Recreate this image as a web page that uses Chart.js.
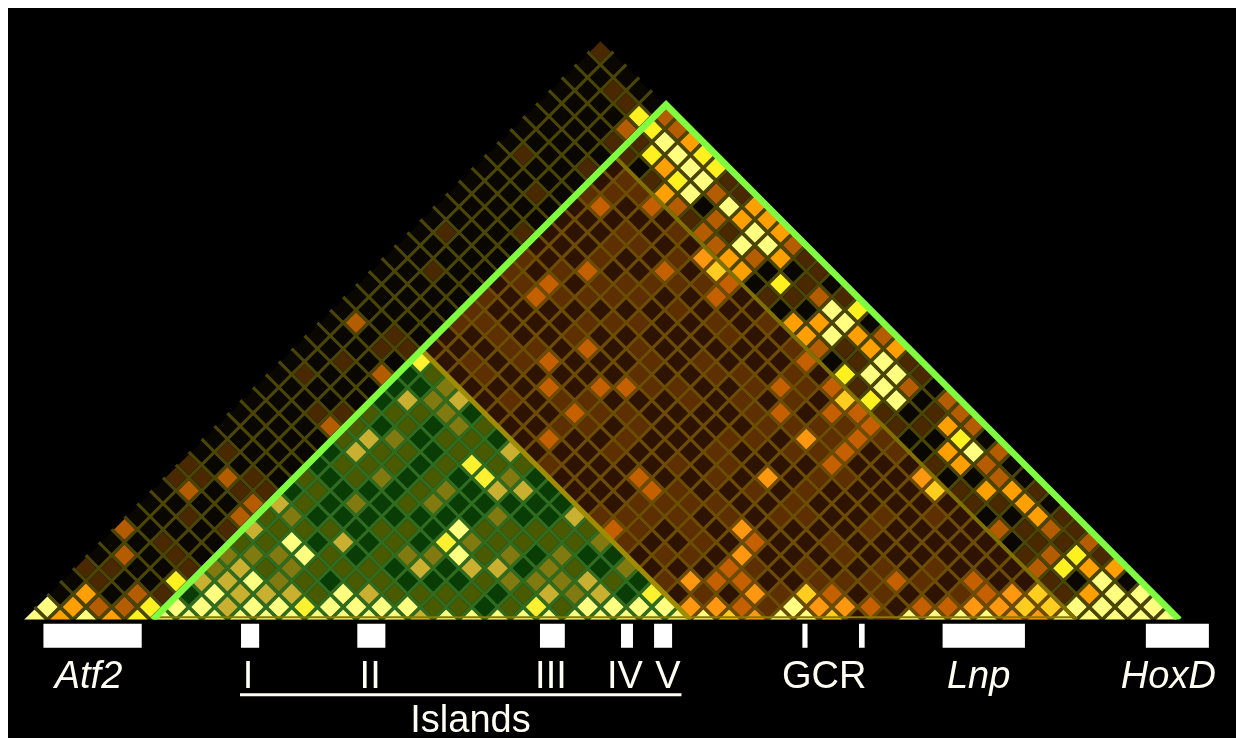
<!DOCTYPE html>
<html><head><meta charset="utf-8">
<style>html,body{margin:0;padding:0;background:#fff}canvas{position:absolute;left:8px;top:8px;background:#000;display:block}</style>
<script src="https://cdn.jsdelivr.net/npm/chart.js@4/dist/chart.umd.js"></script>
</head><body>
<canvas id="c" width="1228" height="730"></canvas>
<script>
// Each entry: [row r (distance from base), position s, s, ...]
const level0 = [[19,29],[18,28,30],[17,27],[16,34],[15,27,31],[14,30,36],[13,23,31],[12,22,30],[11,23,29,33,39],[10,20,24,26,28,34,40],[9,23,27,33,35,37,39,41],[8,22,24,26,28,30,32,34,38,40],[7,25,31],[6,22,26,30],[5,25,39,43,45],[4,28,32,38,44],[3,23,29,31,33,47],[2,12,36,46],[1,35]];
const level1 = [[0,66],[1,57],[2,10,52,58,66,72,80],[3,5,49,61,63,65,69,79],[4,4,6,12,56,60,66,70],[5,11,49,51,63,77,83],[6,10,46,52,62,78,80],[7,15,47,51,65,77,81],[8,12,44,46,48,50,54,58,60,66,70,80],[9,47,49,51,53,59,73,75],[10,16,18,50,56,60,72,78],[11,11,13,17,53,61,63],[12,12,40,50,54,70],[13,15,45,53,59,61,67],[14,46,54,56,62,66],[15,41,43,47,57,59,61,63,67,69],[16,22,24,44,46,56,66,70],[17,37,41,43,51,55,59],[18,48,50,56,60,64],[19,21,35,47,53,55,59,69],[20,24,34,38,48,52,64,68],[21,27,29,37,39,47,59,63],[22,28,36,42,54],[23,33,35,43,45,47,53,57],[24,34,50],[25,35,41,43,45,47,57,59,63],[26,38,44,46,48,50,52,60],[27,31,37,41,61],[28,38,44,50,60],[29,45,47],[30,32,38,46,50,54],[31,51],[33,39,43,45,47,55],[34,46,48,54],[35,43],[36,38,46],[37,45,47],[40,46],[41,45],[44,44]];
const level2 = [[1,5,7,55,65,69,71],[2,8,42,62,74],[3,19,37,39,41,53,55,67,73],[4,14,20,40,46,54,78],[5,7,15,17,19,29,31,37,41,79],[6,34,44,56,82],[7,7,45,75,79],[8,16,20,36],[9,17,25,31],[10,12,32,48],[11,15,27,37,47,75],[12,62,74],[13,63,75],[14,28,40,64],[15,23,33,65,73],[16,32,42,58,62,64,72],[17,31,71],[18,32,40,44,46,58,62,68],[19,27],[20,40,60],[21,43,61],[22,66],[23,25],[25,39,53,61],[26,40,54],[27,43,49],[28,56],[29,53,59],[30,52],[31,53],[32,44,48,50],[33,53],[38,46,50],[39,49]];
const level3 = [[0,2,6,30,56,76,78],[1,3,15,51,53,61,63,73,75],[2,4,16,18,20,26,40,44,56,76,82],[3,13,15,43,51],[4,16,30,34,36,82,84],[5,55],[6,24],[7,17,55],[8,42,78],[9,19,77],[10,36,38,74,76],[11,57,69],[12,72],[13,25,37,71],[14,26,60],[15,71],[17,29,33],[21,65,67],[22,60,64],[23,59,61],[27,55],[28,52,54,58],[30,58],[31,55,57],[32,56],[33,49],[35,49],[37,51]];
const level4 = [[0,8,54,62],[1,9,21,39,77,79],[2,48,60,78],[3,11],[4,80],[5,81],[6,32],[10,70],[11,35],[12,34],[14,72],[17,63,65],[19,63],[20,30],[24,64],[26,58],[27,53],[34,50],[35,53],[36,48,52],[38,48],[39,47]];
const level5 = [[0,0,4,10,12,14,16,18,20,22,24,26,28,32,34,36,38,40,42,44,46,48,50,52,58,60,68,70,72,74,80,82,84,86,88],[1,1,11,13,17,19,23,25,27,29,43,45,47,49,59,81,83,85,87],[2,14,24,84,86],[3,17,83],[5,21,33],[6,20],[7,33],[13,73],[17,67],[18,66],[19,65,67],[20,66],[22,62],[23,63],[24,62],[29,55,57],[30,56],[32,54],[33,51],[34,52],[35,51],[36,50],[37,49]];

const markerCount = 45;
const outlineI = 4.6, greenJ = 25.5, brownJ = 40.5, outlineJ = 44.5;

const bandStart = [0.70, 16.06, 25.1, 39.3, 45.6, 48.17, 59.7, 64.1, 70.6, 86.4];
const bandEnd   = [8.34, 17.47, 27.28, 41.23, 46.53, 49.57, 60.1, 64.54, 77.0, 91.3];
const labelText = ['Atf2','I','II','III','IV','V','GCR','Lnp','HoxD','Islands'];
const labelPos  = [4.2, 16.6, 26.1, 40.15, 45.9, 49.25, 61.4, 73.4, 88.15, 33.9];
const labelRow  = [-5.25,-5.25,-5.25,-5.25,-5.25,-5.25,-5.25,-5.25,-5.25,-8.67];
const labelItalic = [true,false,false,false,false,false,false,true,true,false];

const basePal  = ['#0a0600','#4a2800','#b35c00','#ff9f00','#fff020','#ffff80'];
const brownPal = ['#2e1300','#5e2f00','#c46000','#ff9810','#ffcc20','#ffff80'];
const greenPal = ['#0a3d05','#4a5a00','#807a10','#c9b030','#fff030','#ffff80'];

const ij = (i,j)=>({x:i+j,y:j-i});
const lookup = new Map();
[level0,level1,level2,level3,level4,level5].forEach((lst,lv)=>lst.forEach(row=>{
  for(let k=1;k<row.length;k++) lookup.set(row[0]+','+row[k],lv);
}));
const cells=[], cellColors=[];
for(let r=0;r<markerCount;r++){
  for(let i=0;i<markerCount-r;i++){
    const j=i+r, s=i+j;
    const green = i>outlineI && j<greenJ;
    const brown = i>outlineI && j>greenJ && j<brownJ;
    const key=r+','+s;
    const lv = lookup.has(key)?lookup.get(key):(green?1:0);
    cells.push({x:s,y:r});
    cellColors.push((green?greenPal:brown?brownPal:basePal)[lv]);
  }
}
const grid=[];
for(let k=0;k<markerCount-1;k++){
  const c=k+0.5;
  grid.push(ij(-0.5,c),ij(c,c),{x:null,y:null});
  grid.push(ij(c,c),ij(c,markerCount-0.5),{x:null,y:null});
}
const bands=[];
bandStart.forEach((b,n)=>{bands.push({x:b,y:-1.24},{x:bandEnd[n],y:-1.24},{x:null,y:null});});

const baseClip={left:12,top:12,right:12,bottom:-108};
const labelPlugin={id:'labels',afterDraw(ch){
  const c=ch.ctx;c.save();c.fillStyle='#fffff4';c.textAlign='center';c.textBaseline='alphabetic';
  labelText.forEach((t,n)=>{
    c.font=(labelItalic[n]?'italic ':'')+'38px "Liberation Sans"';
    c.fillText(t,ch.scales.x.getPixelForValue(labelPos[n]),ch.scales.y.getPixelForValue(labelRow[n]));
  });
  c.restore();
}};
new Chart(document.getElementById('c'),{
  type:'scatter',
  data:{datasets:[
    {type:'line',order:1,label:'outline',data:[ij(outlineI,outlineI),ij(outlineI,outlineJ),ij(outlineJ,outlineJ)],borderColor:'#80ff40',borderWidth:6.5,borderJoinStyle:'miter',pointRadius:0,fill:false,clip:baseClip},
    {type:'line',order:2,label:'separator A',data:[ij(outlineI,greenJ),ij(greenJ,greenJ)],borderColor:'#a08c00',borderWidth:5,pointRadius:0,fill:false,clip:baseClip},
    {type:'line',order:3,label:'separator B',data:[ij(outlineI,brownJ),ij(brownJ,brownJ)],borderColor:'#807000',borderWidth:4,pointRadius:0,fill:false,clip:baseClip},
    {type:'line',order:4,label:'base',data:[{x:9.2,y:0.2},{x:81,y:0.2}],borderColor:'#8a7a00',borderWidth:2,pointRadius:0,fill:false,clip:baseClip},
    {order:5,label:'cells',data:cells,pointStyle:'rectRot',pointRadius:10.4,pointBorderWidth:0,pointBackgroundColor:cellColors,showLine:false,clip:baseClip},
    {type:'line',order:6,label:'green region',data:[ij(outlineI,outlineI),ij(outlineI,greenJ),ij(greenJ,greenJ),ij(outlineI,outlineI)],borderWidth:0,pointRadius:0,fill:'shape',backgroundColor:'rgba(0,177,86,0.35)',clip:baseClip},
    {type:'line',order:7,label:'brown region',data:[ij(outlineI,greenJ),ij(outlineI,brownJ),ij(brownJ,brownJ),ij(greenJ,greenJ),ij(outlineI,greenJ)],borderWidth:0,pointRadius:0,fill:'shape',backgroundColor:'rgba(170,90,0,0.35)',clip:baseClip},
    {type:'line',order:8,label:'grid',data:grid,borderColor:'#4a4500',borderWidth:3.4,pointRadius:0,fill:false,spanGaps:false,clip:baseClip},
    {type:'line',order:9,label:'bands',data:bands,borderColor:'#ffffff',borderWidth:24,pointRadius:0,fill:false,spanGaps:false,clip:false},
    {type:'line',order:10,label:'islands',data:[{x:15.98,y:-5.81},{x:50.3,y:-5.81}],borderColor:'#fffff0',borderWidth:3,pointRadius:0,fill:false,clip:false}
  ]},
  options:{responsive:false,animation:false,events:[],layout:{padding:0},
    plugins:{legend:{display:false},tooltip:{enabled:false},title:{display:false}},
    scales:{x:{type:'linear',display:false,min:-1.247,max:92.6},y:{type:'linear',display:false,min:-8.35,max:46.58}}
  },
  plugins:[labelPlugin]
});
</script>
</body></html>
